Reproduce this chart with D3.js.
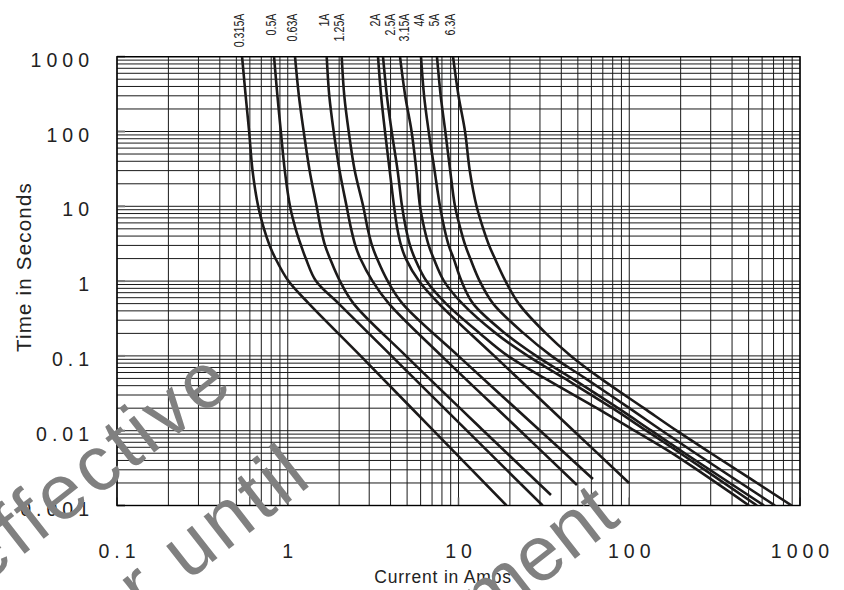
<!DOCTYPE html>
<html><head><meta charset="utf-8">
<script src="https://cdn.jsdelivr.net/npm/d3@7"></script>
<style>html,body{margin:0;padding:0;background:#fff;} svg{display:block;}</style>
</head><body>
<svg id="chart" width="844" height="590"></svg>
<script>
// ---- data (current in A, time in s) ----
const ratings = ["0.315A","0.5A","0.63A","1A","1.25A","2A","2.5A","3.15A","4A","5A","6.3A"];

const amps_0315 = [0.54,0.567,0.594,0.622,0.671,0.726,0.783,0.848,1.01,1.33,2.67,7.14,19.1];
const secs_0315 = [1000,300,100,30,10,5,3,2,1,0.5,0.1,0.01,0.001];
const amps_05 = [0.831,0.870,0.911,0.961,1.031,1.112,1.196,1.276,1.464,1.988,4.05,11.2,31.1];
const secs_05 = [1000,300,100,30,10,5,3,2,1,0.5,0.1,0.01,0.001];
const amps_063 = [1.103,1.162,1.240,1.343,1.476,1.564,1.653,1.768,2.021,2.43,4.92,14.0,34.8];
const secs_063 = [1000,300,100,30,10,5,3,2,1,0.5,0.1,0.01,0.00138];
const amps_1 = [1.691,1.751,1.858,2.012,2.211,2.35,2.487,2.66,3.135,3.912,7.95,22.98,49.4];
const secs_1 = [1000,300,100,30,10,5,3,2,1,0.5,0.1,0.01,0.00188];
const amps_125 = [2.07,2.144,2.275,2.467,2.766,2.939,3.114,3.332,3.849,4.70,9.97,30.1,61.3];
const secs_125 = [1000,300,100,30,10,5,3,2,1,0.5,0.1,0.01,0.00226];
const amps_2 = [3.378,3.522,3.711,3.955,4.192,4.383,4.606,4.914,5.87,7.67,16.2,47.2,99.7];
const secs_2 = [1000,300,100,30,10,5,3,2,1,0.5,0.1,0.01,0.002];
const secs_hi = [1000,300,100,30,10,5,3,2,1,0.5,0.2,0.1,0.05,0.02,0.01,0.005,0.001];
const amps_25 = [3.613,3.808,4.062,4.40,4.67,4.926,5.20,5.555,6.494,8.45,13.35,19.47,32.1,64.6,107.3,178,502.6];
const amps_315 = [4.544,4.873,5.312,5.667,5.95,6.31,6.69,7.157,8.225,10.53,16.56,25.46,41.8,79.7,125.9,199.1,560];
const amps_4 = [6.03,6.287,6.69,7.244,7.79,8.27,8.76,9.37,10.41,12.18,18.77,28.5,46.2,86.0,134.8,211.5,615.5];
const amps_5 = [7.48,7.866,8.37,8.94,9.54,10.27,10.96,11.72,13.31,15.94,24.12,35.0,55.4,100.2,155.7,244.3,714];
const amps_63 = [9.29,10.0,10.92,11.64,12.76,13.97,15.11,16.34,18.85,22.52,32.5,45.5,67.9,121.8,189.4,301.2,894];

const xTickValues = [0.1,1,10,100,1000];
const xTickLabels = ["0.1","1","10","100","1000"];
const yTickValues = [0.001,0.01,0.1,1,10,100,1000];
const yTickLabels = ["0.001","0.01","0.1","1","10","100","1000"];
const xTitle = "Current in Amps";
const yTitle = "Time in Seconds";
const watermarkLines = ["Not effective","for order until","agreement"];

const seriesAmps = [amps_0315,amps_05,amps_063,amps_1,amps_125,amps_2,amps_25,amps_315,amps_4,amps_5,amps_63];
const seriesSecs = [secs_0315,secs_05,secs_063,secs_1,secs_125,secs_2,secs_hi,secs_hi,secs_hi,secs_hi,secs_hi];
const series = ratings.map((r,i)=>({name:r, pts: seriesAmps[i].map((a,j)=>({a, t: seriesSecs[i][j]}))}));

// ---- layout ----
const L = 117, R = 800, T = 56.7, B = 505.5;
const svg = d3.select("#chart");
const x = d3.scaleLog().domain([0.1,1000]).range([L,R]);
const y = d3.scaleLog().domain([0.001,1000]).range([B,T]);
const FONT = "'Liberation Sans', Arial, Helvetica, sans-serif";

// grid
const g = svg.append("g");
g.selectAll("line.v").data(x.ticks()).join("line")
  .attr("x1",d=>x(d)).attr("x2",d=>x(d)).attr("y1",T).attr("y2",B)
  .attr("stroke","#1a1a1a").attr("stroke-width",1);
g.selectAll("line.h").data(y.ticks()).join("line")
  .attr("y1",d=>y(d)).attr("y2",d=>y(d)).attr("x1",L).attr("x2",R)
  .attr("stroke","#1a1a1a").attr("stroke-width",1);
// decade ticks
g.selectAll("line.yt").data(yTickValues).join("line")
  .attr("x1",L).attr("x2",L+8).attr("y1",d=>y(d)).attr("y2",d=>y(d))
  .attr("stroke","#777").attr("stroke-width",2);
g.selectAll("line.xt").data(xTickValues).join("line")
  .attr("x1",d=>x(d)).attr("x2",d=>x(d)).attr("y1",B).attr("y2",B-8)
  .attr("stroke","#555").attr("stroke-width",1.5);
// frame
svg.append("rect").attr("x",L).attr("y",T).attr("width",R-L).attr("height",B-T)
  .attr("fill","none").attr("stroke","#000").attr("stroke-width",1.4);

// curves
svg.append("defs").append("clipPath").attr("id","plot").append("rect")
  .attr("x",L).attr("y",T).attr("width",R-L).attr("height",B-T);
const line = d3.line().x(d=>x(d.a)).y(d=>y(d.t)).curve(d3.curveCatmullRom.alpha(0.5));
svg.append("g").attr("clip-path","url(#plot)")
  .selectAll("path").data(series).join("path")
  .attr("d",d=>line(d.pts)).attr("fill","none")
  .attr("stroke","#1c1a1a").attr("stroke-width",2.6).attr("stroke-linejoin","round");

// curve labels (rotated, at top)
let lastX = -1e9;
series.forEach(s=>{
  let lx = x(s.pts[0].a) + 2;
  if (lx < lastX + 14.5) lx = lastX + 14.5;
  lastX = lx;
  svg.append("text").attr("transform",`translate(${lx},13.5) scale(1.3,1) rotate(-90)`)
    .attr("text-anchor","end").attr("font-family",FONT).attr("font-size",10.7)
    .attr("fill","#222").text(s.name);
});

// tick labels
const LS = 5;
yTickValues.forEach((v,i)=>{
  svg.append("text").attr("x",89+LS).attr("y",y(v)+10)
    .attr("text-anchor","end").attr("font-family",FONT).attr("font-size",19.5)
    .attr("letter-spacing",LS).attr("fill","#222").text(yTickLabels[i]);
});
xTickValues.forEach((v,i)=>{
  svg.append("text").attr("x",x(v)+LS/2).attr("y",558)
    .attr("text-anchor","middle").attr("font-family",FONT).attr("font-size",19.5)
    .attr("letter-spacing",LS).attr("fill","#222").text(xTickLabels[i]);
});
// axis titles
svg.append("text").attr("x",443).attr("y",583)
  .attr("text-anchor","middle").attr("font-family",FONT).attr("font-size",17.5)
  .attr("letter-spacing",0.8).attr("fill","#222").text(xTitle);
svg.append("text").attr("transform",`translate(31,267) rotate(-90)`)
  .attr("text-anchor","middle").attr("font-family",FONT).attr("font-size",20.5)
  .attr("letter-spacing",1.2).attr("fill","#222").text(yTitle);

// watermark
const wmEnds = [[238,387],[316,481],[622,522]];
const wmSpacing = [4,4,0];
watermarkLines.forEach((t,i)=>{
  svg.append("text").attr("transform",`translate(${wmEnds[i][0]},${wmEnds[i][1]}) rotate(-38)`)
    .attr("text-anchor","end").attr("font-family",FONT).attr("font-size",78)
    .attr("letter-spacing",wmSpacing[i]).attr("fill","#808080").text(t);
});
</script>
</body></html>
